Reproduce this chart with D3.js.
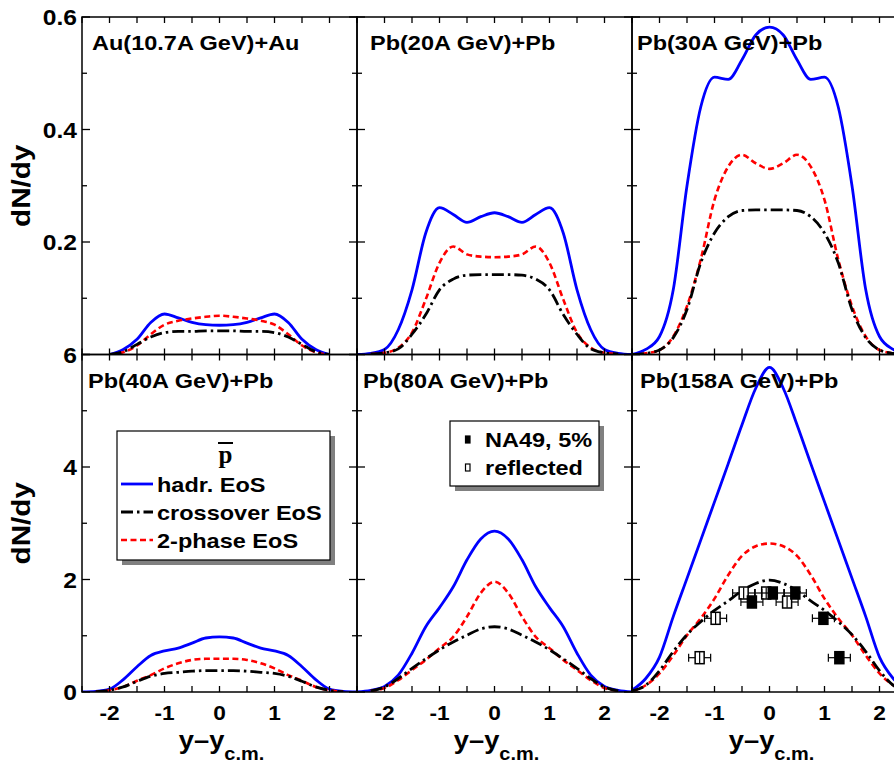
<!DOCTYPE html>
<html><head><meta charset="utf-8">
<script src="https://cdn.jsdelivr.net/npm/d3@7"></script>
<style>body{margin:0;background:#fff}svg{display:block}</style>
</head><body><svg id="c" width="894" height="764"></svg>
<script>
// ---------------- data ----------------
const rapidity = [-2.5,-2.25,-2,-1.75,-1.5,-1.25,-1,-0.75,-0.5,-0.25,0,0.25,0.5,0.75,1,1.25,1.5,1.75,2,2.25,2.5];
const panelTitles = ["Au(10.7A GeV)+Au","Pb(20A GeV)+Pb","Pb(30A GeV)+Pb","Pb(40A GeV)+Pb","Pb(80A GeV)+Pb","Pb(158A GeV)+Pb"];
const seriesNames = ["hadr. EoS","crossover EoS","2-phase EoS"];
const hadrEoS = [
 [null,null,0,0.009,0.027,0.057,0.072,0.065,0.057,0.053,0.052,0.053,0.057,0.065,0.072,0.057,0.027,0.009,0,null,null],
 [0,0.002,0.009,0.044,0.115,0.216,0.261,0.249,0.235,0.245,0.252,0.245,0.235,0.249,0.261,0.216,0.115,0.044,0.009,0.002,0],
 [0,0.009,0.032,0.115,0.30,0.44,0.493,0.489,0.524,0.568,0.582,0.568,0.524,0.489,0.493,0.44,0.30,0.115,0.032,0.009,0],
 [0,0.01,0.05,0.22,0.45,0.65,0.73,0.78,0.87,0.96,0.98,0.96,0.87,0.78,0.73,0.65,0.45,0.22,0.05,0.01,0],
 [0,0.03,0.10,0.30,0.69,1.16,1.50,1.87,2.35,2.72,2.86,2.72,2.35,1.87,1.50,1.16,0.69,0.30,0.10,0.03,0],
 [0.03,0.24,0.62,1.34,2.02,2.70,3.38,4.06,4.75,5.40,5.77,5.40,4.75,4.06,3.38,2.70,2.02,1.34,0.62,0.24,0.03]
];
const crossoverEoS = [
 [null,null,0,0.005,0.018,0.031,0.039,0.041,0.041,0.042,0.042,0.042,0.041,0.041,0.039,0.031,0.018,0.005,0,null,null],
 [null,0.001,0.003,0.010,0.036,0.071,0.115,0.134,0.141,0.142,0.142,0.142,0.141,0.134,0.115,0.071,0.036,0.010,0.003,0.001,null],
 [0,0.002,0.008,0.030,0.080,0.163,0.216,0.245,0.256,0.257,0.257,0.257,0.256,0.245,0.216,0.163,0.080,0.030,0.008,0.002,0],
 [null,0.005,0.03,0.09,0.19,0.28,0.33,0.35,0.37,0.38,0.38,0.38,0.37,0.35,0.33,0.28,0.19,0.09,0.03,0.005,null],
 [null,0.02,0.09,0.24,0.42,0.59,0.75,0.89,1.01,1.12,1.16,1.12,1.01,0.89,0.75,0.59,0.42,0.24,0.09,0.02,null],
 [0.02,0.12,0.38,0.72,1.02,1.25,1.45,1.62,1.80,1.93,1.99,1.93,1.80,1.62,1.45,1.25,1.02,0.72,0.38,0.12,0.02]
];
const twoPhaseEoS = [
 [null,null,0,0.004,0.016,0.036,0.053,0.060,0.064,0.067,0.069,0.067,0.064,0.060,0.053,0.036,0.016,0.004,0,null,null],
 [null,0.001,0.003,0.012,0.039,0.098,0.163,0.192,0.178,0.174,0.173,0.174,0.178,0.192,0.163,0.098,0.039,0.012,0.003,0.001,null],
 [0,0.002,0.008,0.032,0.086,0.169,0.275,0.334,0.355,0.340,0.330,0.340,0.355,0.334,0.275,0.169,0.086,0.032,0.008,0.002,0],
 [null,0.005,0.03,0.09,0.20,0.30,0.42,0.51,0.57,0.59,0.59,0.59,0.57,0.51,0.42,0.30,0.20,0.09,0.03,0.005,null],
 [null,0.02,0.07,0.21,0.39,0.57,0.78,0.98,1.34,1.76,1.96,1.76,1.34,0.98,0.78,0.57,0.39,0.21,0.07,0.02,null],
 [0.01,0.12,0.33,0.65,1.01,1.31,1.66,2.08,2.42,2.59,2.64,2.59,2.42,2.08,1.66,1.31,1.01,0.65,0.33,0.12,0.01]
];
const na49Y    = [-0.32, 0.06, 0.47, 0.98, 1.27];
const na49dN   = [1.60, 1.76, 1.76, 1.31, 0.61];
const na49YErr = [0.2, 0.2, 0.2, 0.2, 0.2];
const na49dNErr= [0.1, 0.1, 0.1, 0.1, 0.1];
const reflY    = [0.32, -0.06, -0.47, -0.98, -1.27];
const dataLegend = ["NA49, 5%","reflected"];
const xTickLabels = ["-2","-1","0","1","2"];
const yTickLabelsTop = ["0.6","0.4","0.2"];
const yTickLabelsBottom = ["6","4","2","0"];

// ---------------- layout ----------------
const L = 82, T = 17, PW = 275, PH = 337.5;
const SX = 1.12; // horizontal text stretch
const FONT = "'Liberation Sans', Arial, Helvetica, sans-serif";
const titleOffsets = [10, 13, 5, 6, 6, 8];
const svg = d3.select("#c");
svg.append("rect").attr("width",894).attr("height",764).attr("fill","#fff");

function txt(g, x, y, s, size, anchor, sx) {
  return g.append("text").attr("transform", `translate(${x},${y}) scale(${sx||SX},1)`)
    .attr("font-family", FONT).attr("font-weight","bold").attr("font-size", size)
    .attr("text-anchor", anchor || "start").attr("fill","#000").text(s);
}

const styles = [
  {data: hadrEoS, color:"#0000ff", dash:null, w:2.8},
  {data: crossoverEoS, color:"#000", dash:"12,4,2.5,4", w:2.8},
  {data: twoPhaseEoS, color:"#ff0000", dash:"6,3.5", w:2.6}
];

const defs = svg.append("defs");
for (let p = 0; p < 6; p++) {
  const col = p % 3, row = Math.floor(p / 3);
  const x0 = L + col * PW, y0 = T + row * PH;
  const x = d3.scaleLinear().domain([-2.5, 2.5]).range([x0, x0 + PW]);
  const y = d3.scaleLinear().domain(row === 0 ? [0, 0.6] : [0, 6]).range([y0 + PH, y0]);
  defs.append("clipPath").attr("id","clip"+p).append("rect")
    .attr("x", x0).attr("y", y0).attr("width", PW).attr("height", PH);
  const g = svg.append("g");
  const cg = g.append("g").attr("clip-path", `url(#clip${p})`);

  const line = d3.line().defined(d => d[1] != null)
    .x(d => x(d[0])).y(d => y(d[1])).curve(d3.curveMonotoneX);
  [0, 2, 1].forEach(si => {
    const st = styles[si];
    const pts = rapidity.map((r, i) => [r, st.data[p][i]]);
    cg.append("path").attr("d", line(pts)).attr("fill","none")
      .attr("stroke", st.color).attr("stroke-width", st.w)
      .attr("stroke-dasharray", st.dash).attr("stroke-linejoin","round");
  });

  if (p === 5) {
    const drawPts = (xs, filled) => {
      xs.forEach((xv, i) => {
        const cx = x(xv), cy = y(na49dN[i]);
        const ex0 = x(xv - na49YErr[i]), ex1 = x(xv + na49YErr[i]);
        cg.append("line").attr("x1", ex0).attr("x2", ex1).attr("y1", cy).attr("y2", cy)
          .attr("stroke","#000").attr("stroke-width",1.2);
        [ex0, ex1].forEach(ex => cg.append("line").attr("x1", ex).attr("x2", ex)
          .attr("y1", cy - 4).attr("y2", cy + 4).attr("stroke","#000").attr("stroke-width",1.2));
        cg.append("rect").attr("x", cx - 4.5).attr("y", cy - 6).attr("width", 9).attr("height", 12)
          .attr("fill", filled ? "#000" : "#fff").attr("stroke","#000").attr("stroke-width",1.5);
        cg.append("line").attr("x1", cx).attr("x2", cx)
          .attr("y1", y(na49dN[i] - na49dNErr[i])).attr("y2", y(na49dN[i] + na49dNErr[i]))
          .attr("stroke","#000").attr("stroke-width",1.2);
      });
    };
    drawPts(reflY, false);
    drawPts(na49Y, true);
  }

  g.append("rect").attr("x", x0).attr("y", y0).attr("width", PW).attr("height", PH)
    .attr("fill","none").attr("stroke","#000").attr("stroke-width",1.5);
  d3.range(-2.5, 2.51, 0.5).forEach(v => {
    const xx = x(v);
    g.append("line").attr("x1",xx).attr("x2",xx).attr("y1",y0+PH).attr("y2",y0+PH-6).attr("stroke","#000").attr("stroke-width",1.3);
    g.append("line").attr("x1",xx).attr("x2",xx).attr("y1",y0).attr("y2",y0+6).attr("stroke","#000").attr("stroke-width",1.3);
  });
  const step = row === 0 ? 0.1 : 1;
  for (let k = 0; k <= 6; k++) {
    const yy = y(k * step), len = (k % 2 === 0) ? 8 : 5;
    g.append("line").attr("x1",x0).attr("x2",x0+len).attr("y1",yy).attr("y2",yy).attr("stroke","#000").attr("stroke-width",1.3);
    g.append("line").attr("x1",x0+PW).attr("x2",x0+PW-len).attr("y1",yy).attr("y2",yy).attr("stroke","#000").attr("stroke-width",1.3);
  }
  txt(svg, x0 + titleOffsets[p], y0 + 33, panelTitles[p], 21, "start");

  if (row === 1) {
    xTickLabels.forEach(s => txt(svg, x(+s), 719.5, s, 21, "middle", 1.08));
    const t = svg.append("text").attr("transform", `translate(${x(0)+2},749) scale(1.05,1)`)
      .attr("font-family", FONT).attr("font-weight","bold").attr("text-anchor","middle");
    t.append("tspan").attr("font-size",26).text("y\u2013y");
    t.append("tspan").attr("font-size",19).attr("dy",11).text("c.m.");
  }
  if (col === 0) {
    const labs = row === 0 ? yTickLabelsTop : yTickLabelsBottom;
    labs.forEach(s => txt(svg, 77, y(+s) + 8, s, 22, "end"));
    svg.append("text").attr("transform", `translate(29.5,${y0 + PH/2}) rotate(-90) scale(1.12,1)`)
      .attr("font-family", FONT).attr("font-weight","bold").attr("font-size",26.5)
      .attr("text-anchor","middle").text("dN/dy");
  }
}

// ---------- legend 1 (model curves) ----------
const lg = svg.append("g");
lg.append("rect").attr("x",122).attr("y",436).attr("width",213).attr("height",129).attr("fill","#808080");
lg.append("rect").attr("x",117).attr("y",431).attr("width",213).attr("height",129).attr("fill","#fff").attr("stroke","#000").attr("stroke-width",1.2);
lg.append("text").attr("x",225.5).attr("y",463).attr("font-family","'Liberation Serif', 'Times New Roman', serif")
  .attr("font-weight","bold").attr("font-size",25).attr("text-anchor","middle").text("p");
lg.append("line").attr("x1",218).attr("x2",233).attr("y1",443).attr("y2",443).attr("stroke","#000").attr("stroke-width",2);
const legY = [492, 520, 548];
seriesNames.forEach((n, i) => {
  const st = styles[i];
  lg.append("line").attr("x1",121).attr("x2",153).attr("y1",legY[i]-8).attr("y2",legY[i]-8)
    .attr("stroke", st.color).attr("stroke-width", st.w).attr("stroke-dasharray", st.dash);
  txt(lg, 157, legY[i], n, 21, "start");
});

// ---------- legend 2 (data) ----------
const lg2 = svg.append("g");
lg2.append("rect").attr("x",455).attr("y",426).attr("width",149).attr("height",65).attr("fill","#808080");
lg2.append("rect").attr("x",450).attr("y",421).attr("width",149).attr("height",65).attr("fill","#fff").attr("stroke","#000").attr("stroke-width",1.2);
const leg2Y = [447, 475];
dataLegend.forEach((n, i) => {
  lg2.append("rect").attr("x",465.5).attr("y",leg2Y[i]-11).attr("width",4.5).attr("height",7)
    .attr("fill", i === 0 ? "#000" : "#fff").attr("stroke","#000").attr("stroke-width",1.2);
  txt(lg2, 485, leg2Y[i], n, 21, "start");
});
</script></body></html>
